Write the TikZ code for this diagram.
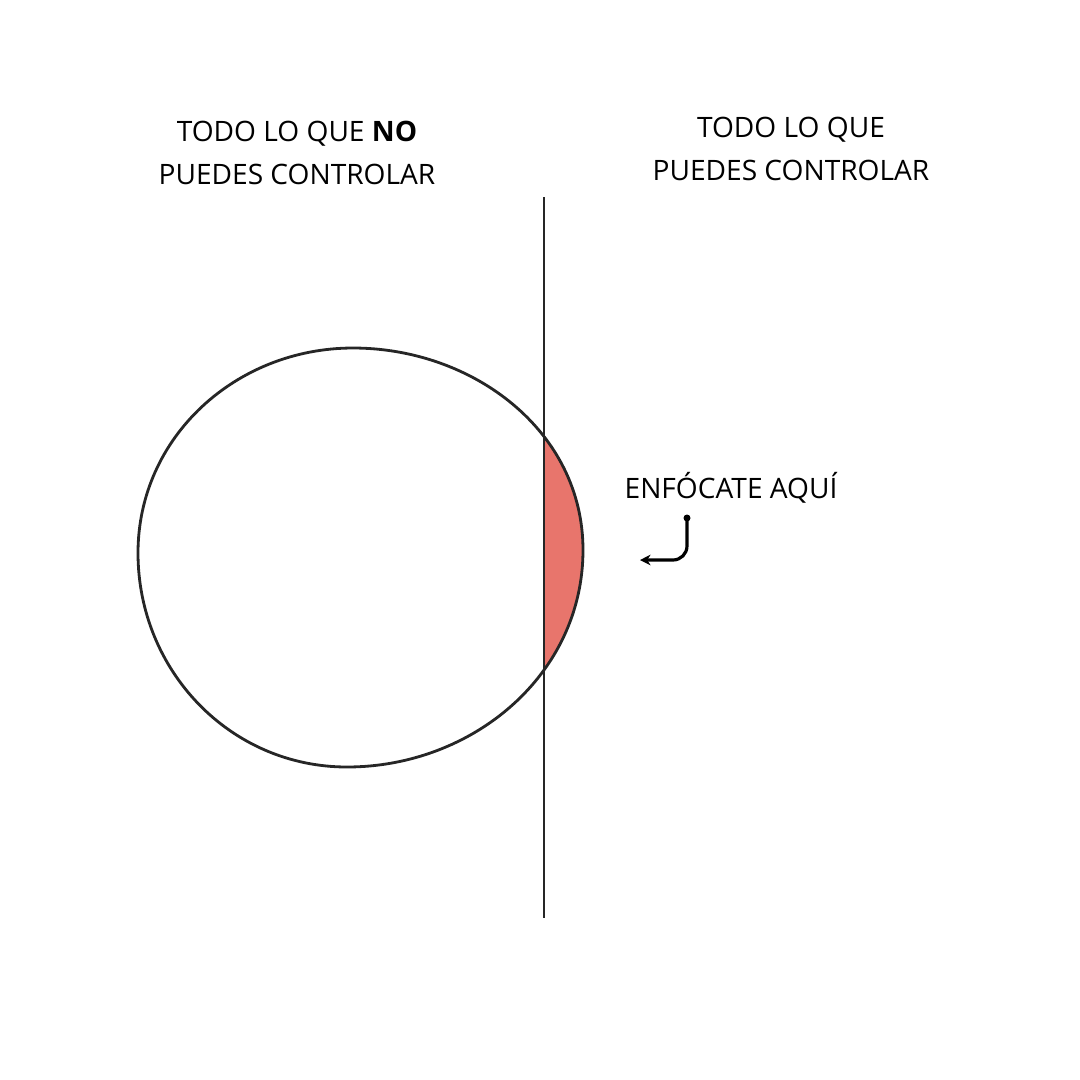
\documentclass[tikz,border=0pt]{standalone}
\usepackage{fontspec}
\setmainfont{Open Sans}
\usepackage{xcolor}
\usetikzlibrary{arrows.meta}
\definecolor{focusred}{HTML}{E8756C}

\begin{document}
\begin{tikzpicture}[x=0.02cm,y=-0.02cm,font=\fontsize{16}{24.9}\selectfont,
    label/.style={align=center,inner sep=0pt},
    stroke/.style={line width=1.6pt,black!85}]
  \useasboundingbox (0,0) rectangle (1080,1080);
  \def\outline{(138,553) to[out=90,in=180] (353,348) to[out=0,in=90] (583,550) to[out=-90,in=0] (347,767) to[out=180,in=-90] cycle}
  \begin{scope}
    \clip (544,300) rectangle (700,800);
    \fill[focusred] \outline;
  \end{scope}
  \draw[stroke] \outline;
  \draw[stroke] (544,197) -- (544,918);
  \node[label] (nocontrol) at (297,153) {TODO LO QUE \textbf{NO}\\PUEDES CONTROLAR};
  \node[label] (control) at (791,149) {TODO LO QUE\\PUEDES CONTROLAR};
  \node[label,anchor=base] (focus) at (731,498) {ENFÓCATE AQUÍ};
  \coordinate (start) at (687,518);
  \coordinate (tip) at (640,560);
  \fill (start) circle (3.5);
  \draw[line width=1.8pt,-{Stealth[length=6pt,width=6pt]}] (start) -- (687,546) to[out=-90,in=0] (673,560) -- (tip);
\end{tikzpicture}
\end{document}
